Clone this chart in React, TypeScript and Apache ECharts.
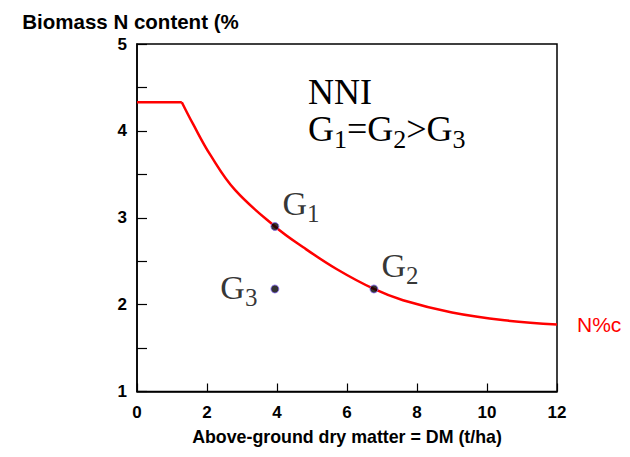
import React, { useEffect, useRef } from "react";
import * as echarts from "echarts";

// Critical N dilution curve
const curveDM = [1.28, 1.6, 2.1, 2.8, 3.94, 4.75, 5.7, 6.77, 7.6, 9.0, 10.5, 12];
const curveN = [4.33, 4.08, 3.72, 3.32, 2.9, 2.66, 2.41, 2.18, 2.05, 1.91, 1.82, 1.77];
// plateau before the curve
const plateauDM = [0, 1.28];
const plateauN = [4.33, 4.33];
// genotypes
const gNames = ["G1", "G2", "G3"];
const gDM = [3.94, 6.77, 3.94];
const gN = [2.9, 2.18, 2.18];
const xTicks = [0, 2, 4, 6, 8, 10, 12];
const yTicks = [1, 2, 3, 4, 5];

const sans = "'Liberation Sans', Arial, Helvetica, sans-serif";
const serif = "'Liberation Serif', 'Times New Roman', serif";

const labelPlacement: Record<string, any> = {
  G1: { position: "right", distance: 3, offset: [0, -23] },
  G2: { position: "right", distance: 3, offset: [0, -23] },
  G3: { position: "left", distance: 13, offset: [0, -1] },
};

const richSub = {
  g: { fontFamily: serif, fontSize: 34, lineHeight: 34, color: "#000" },
  s: { fontFamily: serif, fontSize: 25, lineHeight: 12, padding: [20, 0, 0, 0], color: "#000" },
};
const richBig = {
  g: { fontFamily: serif, fontSize: 36, lineHeight: 30, color: "#000" },
  s: { fontFamily: serif, fontSize: 26, lineHeight: 10, padding: [20, 0, 0, 0], color: "#000" },
};

export default function App() {
  const ref = useRef<HTMLDivElement>(null);
  useEffect(() => {
    document.body.style.margin = "0";
    const chart = echarts.init(ref.current!, null, { renderer: "svg" });
    const option: any = {
      animation: false,
      backgroundColor: "#fff",
      grid: {
        left: 137,
        right: 73,
        top: 44,
        bottom: 65.5,
        show: true,
        borderColor: "#000",
        borderWidth: 1.5,
        backgroundColor: "transparent",
      },
      xAxis: {
        type: "value",
        min: xTicks[0],
        max: xTicks[xTicks.length - 1],
        interval: 2,
        name: "Above-ground dry matter = DM (t/ha)",
        nameLocation: "middle",
        nameGap: 36,
        nameTextStyle: { fontFamily: sans, fontWeight: "bold", fontSize: 17.8, color: "#000" },
        axisLine: { lineStyle: { color: "#000", width: 1.5 } },
        axisTick: { inside: true, length: 8, lineStyle: { color: "#000", width: 1.2 } },
        axisLabel: { fontFamily: sans, fontWeight: "bold", fontSize: 17, color: "#000", margin: 12 },
        splitLine: { show: false },
      },
      yAxis: {
        type: "value",
        min: yTicks[0],
        max: yTicks[yTicks.length - 1],
        interval: 1,
        name: "Biomass N content (%",
        nameLocation: "end",
        nameGap: 12,
        nameTextStyle: {
          fontFamily: sans,
          fontWeight: "bold",
          fontSize: 20.5,
          color: "#000",
          align: "center",
          padding: [0, 13, 0, 0],
        },
        axisLine: { lineStyle: { color: "#000", width: 1.5 } },
        axisTick: { inside: true, length: 10, lineStyle: { color: "#000", width: 1.2 } },
        minorTick: { show: true, splitNumber: 2, length: 10, lineStyle: { color: "#000", width: 1.2 } },
        axisLabel: { fontFamily: sans, fontWeight: "bold", fontSize: 17, color: "#000", margin: 10 },
        splitLine: { show: false },
      },
      series: [
        {
          type: "line",
          data: plateauDM.map((d, i) => [d, plateauN[i]]),
          showSymbol: false,
          lineStyle: { color: "#ff0000", width: 2.5 },
          silent: true,
        },
        {
          type: "line",
          data: curveDM.map((d, i) => [d, curveN[i]]),
          smooth: 0.4,
          showSymbol: false,
          lineStyle: { color: "#ff0000", width: 2.5 },
          endLabel: {
            show: true,
            formatter: "N%c",
            color: "#ff0000",
            fontFamily: sans,
            fontSize: 21,
            distance: 20,
          },
          silent: true,
        },
        {
          type: "scatter",
          symbolSize: 8,
          itemStyle: { color: "#000", borderColor: "#8a6cf5", borderWidth: 1 },
          data: gNames.map((n, i) => ({
            name: n,
            value: [gDM[i], gN[i]],
            label: { show: true, ...labelPlacement[n] },
          })),
          label: {
            show: true,
            color: "#000",
            formatter: (p: any) => `{g|G}{s|${p.name.slice(1)}}`,
            rich: richSub,
          },
          z: 5,
        },
      ],
      graphic: [
        {
          type: "text",
          left: 308,
          top: 74,
          style: { text: "NNI", fontFamily: serif, fontSize: 36, fill: "#000" },
        },
        {
          type: "text",
          left: 308,
          top: 106,
          style: {
            text: "{g|G}{s|1}{g|=G}{s|2}{g|>G}{s|3}",
            rich: richBig,
          },
        },
      ],
    };
    chart.setOption(option);
    return () => chart.dispose();
  }, []);
  return <div ref={ref} style={{ width: 630, height: 457, position: "fixed", left: 0, top: 0 }} />;
}
